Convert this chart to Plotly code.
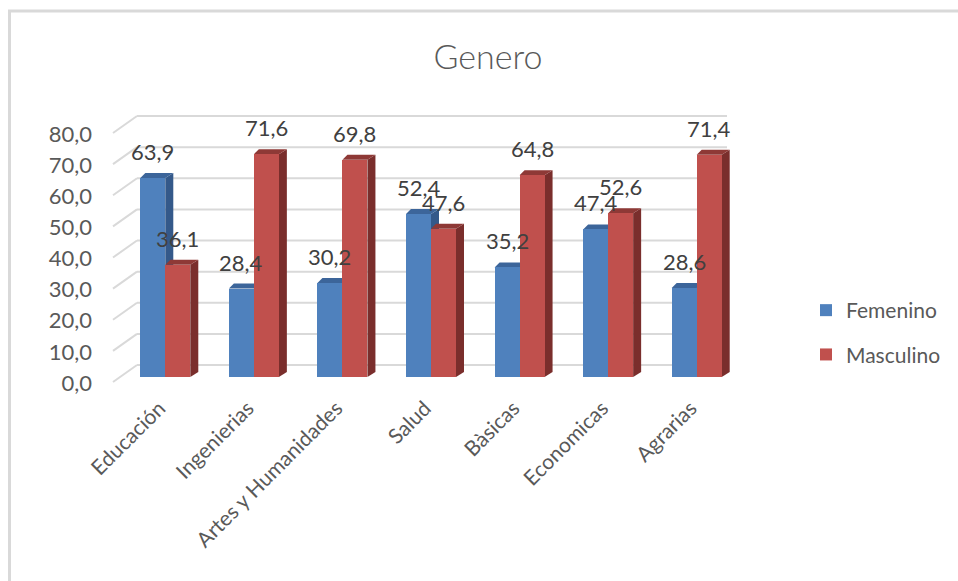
import plotly.graph_objects as go

# ---- data -------------------------------------------------------------
categories = ["Educación", "Ingenierias", "Artes y Humanidades", "Salud",
              "Bàsicas", "Economicas", "Agrarias"]
femenino = [63.9, 28.4, 30.2, 52.4, 35.2, 47.4, 28.6]
masculino = [36.1, 71.6, 69.8, 47.6, 64.8, 52.6, 71.4]
y_ticks = [0, 10, 20, 30, 40, 50, 60, 70, 80]

# ---- layout geometry (pixels) ------------------------------------------
W, H = 958, 581
L, R = 121, 741          # plot area left / right
T, B = 134, 383          # plot area top / bottom (front-edge scale)
PW, PH = R - L, B - T
Y_MAX = 80
PPU = PH / Y_MAX         # pixels per value unit
X_PPU = PW / 7.0         # pixels per category
FLOOR = 377              # pixel row where the columns stand
FLOOR_OFF = (B - FLOOR) / PPU

BAR_PX = 25              # front face width of each column
DEPTH_X, DEPTH_Y, TOP_LEFT_X = 8, 5, 5
BW = BAR_PX / X_PPU      # column width in x-data units

FONT = "Lato"
GRID = "#d9d9d9"

series = [
    ("Femenino", femenino, -BW, "#4F81BD", "#34598A", "#3C659A"),
    ("Masculino", masculino, 0.0, "#C0504D", "#7A2E2C", "#8E3936"),
]


def fx(px):
    return (px - L) / PW


def fy(py):
    return (B - py) / PH


def fmt(v):
    return f"{v:.1f}".replace(".", ",")


fig = go.Figure()
x_idx = list(range(len(categories)))

for name, vals, off, front, side, top in series:
    fig.add_trace(go.Bar(
        x=x_idx, y=vals, name=name, width=BW, offset=off,
        marker=dict(color=front, line=dict(width=0)),
        legendgroup=name, hoverinfo="skip",
    ))

# helper trace so the value-label axis is drawn
fig.add_trace(go.Scatter(x=[None], y=[None], yaxis="y2", showlegend=False,
                         hoverinfo="skip"))

shapes = []

# chart border
shapes.append(dict(type="rect", xref="paper", yref="paper",
                   x0=fx(9.5), x1=fx(980), y0=fy(11), y1=fy(620),
                   line=dict(color=GRID, width=3), layer="below"))

# back-wall gridlines and the slanted side-wall stubs
for v in y_ticks:
    back = 365 - PPU * v
    front_y = 382 - PPU * v
    shapes.append(dict(type="line", xref="paper", yref="paper",
                       x0=fx(137), x1=fx(727), y0=fy(back), y1=fy(back),
                       line=dict(color=GRID, width=2), layer="below"))
    shapes.append(dict(type="line", xref="paper", yref="paper",
                       x0=fx(113), x1=fx(137), y0=fy(front_y), y1=fy(back),
                       line=dict(color=GRID, width=2), layer="below"))

# depth faces of the columns (side + top), anchored on each bar
for i in x_idx:
    for name, vals, off, front, side, top in series:
        v = vals[i]
        hp = v * PPU
        left = i + off
        shapes.append(dict(
            type="path", xref="x", yref="y", xsizemode="pixel",
            ysizemode="pixel", xanchor=left, yanchor=0,
            path=(f"M {BAR_PX},0 L {BAR_PX + DEPTH_X},{DEPTH_Y} "
                  f"L {BAR_PX + DEPTH_X},{hp + DEPTH_Y} L {BAR_PX},{hp} Z"),
            fillcolor=side, line=dict(width=0), layer="below"))
        shapes.append(dict(
            type="path", xref="x", yref="y", xsizemode="pixel",
            ysizemode="pixel", xanchor=left, yanchor=0,
            path=(f"M 0,{hp} L {TOP_LEFT_X},{hp + DEPTH_Y} "
                  f"L {BAR_PX + DEPTH_X},{hp + DEPTH_Y} L {BAR_PX},{hp} Z"),
            fillcolor=top, line=dict(width=0), layer="below"))

# value labels
annotations = []
for name, vals, off, front, side, top in series:
    for i, v in zip(x_idx, vals):
        annotations.append(dict(
            x=i + off + BW / 2, y=v, xref="x", yref="y", text=fmt(v),
            showarrow=False, yanchor="bottom", xanchor="center",
            xshift=0, yshift=11,
            font=dict(family=FONT, size=22, color="#404040")))

fig.update_layout(
    width=W, height=H,
    margin=dict(l=L, r=W - R, t=T, b=H - B, pad=0),
    paper_bgcolor="white", plot_bgcolor="rgba(0,0,0,0)",
    separators=", ",
    title=dict(text="Genero", x=fx(488), xanchor="center",
               y=1 - 57 / H, yanchor="middle", xref="paper",
               font=dict(family=FONT, size=34, color="#595959", weight=300)),
    xaxis=dict(range=[-0.5, 6.5], tickmode="array", tickvals=x_idx,
               ticktext=categories, tickangle=-45, showgrid=False,
               zeroline=False, showline=False, ticks="",
               ticklabelstandoff=8, ticklabelshift=-6,
               tickfont=dict(family=FONT, size=21, color="#595959")),
    yaxis=dict(range=[-FLOOR_OFF, Y_MAX - FLOOR_OFF], showgrid=False,
               zeroline=False, showticklabels=False, showline=False,
               ticks=""),
    yaxis2=dict(overlaying="y", side="left", range=[0, Y_MAX],
                tickmode="array", tickvals=y_ticks, tickformat=".1f",
                showgrid=False, zeroline=False, showline=False, ticks="",
                ticklabelstandoff=28,
                tickfont=dict(family=FONT, size=22, color="#595959")),
    legend=dict(x=fx(806), xanchor="left", y=fy(290), yanchor="top",
                font=dict(family=FONT, size=21, color="#595959"),
                tracegroupgap=14, bgcolor="rgba(0,0,0,0)"),
    shapes=shapes,
    annotations=annotations,
    bargap=0,
)

fig.write_html("out.html")
